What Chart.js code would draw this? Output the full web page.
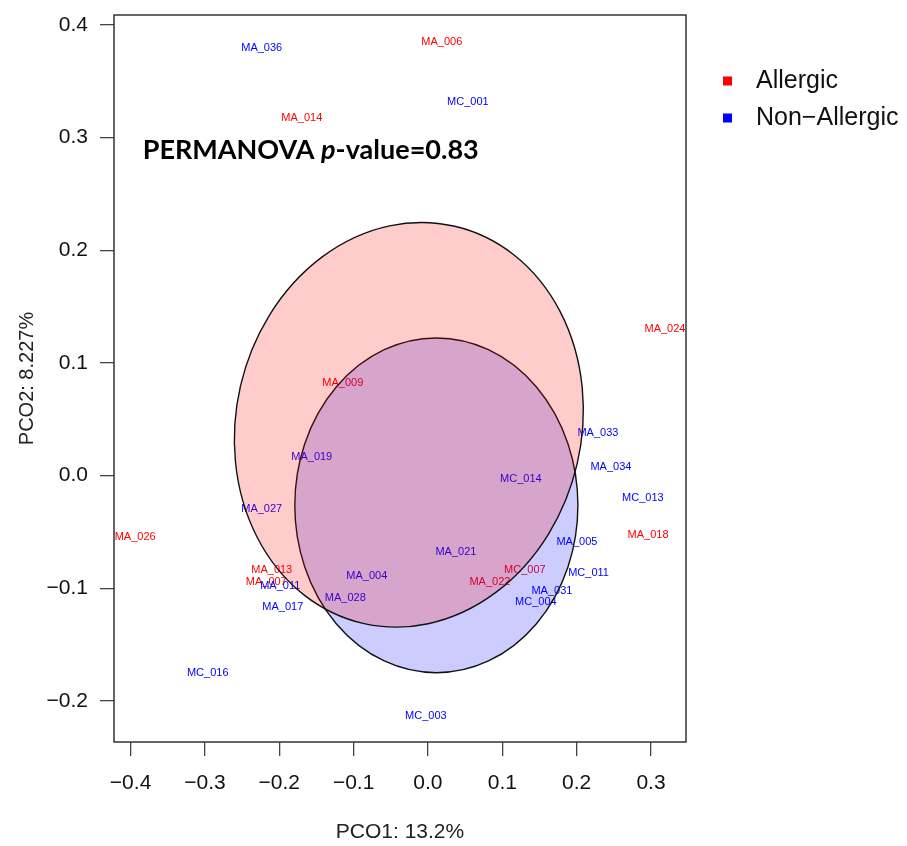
<!DOCTYPE html>
<html>
<head>
<meta charset="utf-8">
<title>PCoA - Allergic vs Non-Allergic</title>
<script src="https://cdn.jsdelivr.net/npm/chart.js@4.4.1/dist/chart.umd.min.js"></script>
<style>
  html, body { margin: 0; padding: 0; background: #fff; }
</style>
</head>
<body>
<canvas id="pcoa" width="907" height="846"></canvas>
<script>
// Allergic samples (PCO1, PCO2)
const allergicIds = ['MA_006', 'MA_014', 'MA_024', 'MA_009', 'MA_026', 'MA_018', 'MA_013', 'MA_007', 'MC_007', 'MA_022'];
const allergicX = [0.0187, -0.1697, 0.3188, -0.1145, -0.3938, 0.2960, -0.2101, -0.2175, 0.1304, 0.0833];
const allergicY = [0.3849, 0.3174, 0.1303, 0.0823, -0.0543, -0.0526, -0.0836, -0.0942, -0.0836, -0.0942];

// Non-allergic samples
const nonAllergicIds = ['MA_036', 'MC_001', 'MA_019', 'MA_033', 'MA_034', 'MC_014', 'MC_013', 'MA_027', 'MA_005', 'MA_021',
    'MC_011', 'MA_004', 'MA_011', 'MA_031', 'MC_004', 'MA_028', 'MA_017', 'MC_016', 'MC_003'];
const nonAllergicX = [-0.2236, 0.0537, -0.1563, 0.2286, 0.2461, 0.1250, 0.2891, -0.2236, 0.2004, 0.0376,
    0.2160, -0.0822, -0.1987, 0.1667, 0.1452, -0.1112, -0.1953, -0.2962, -0.0028];
const nonAllergicY = [0.3795, 0.3316, 0.0167, 0.0380, 0.0078, -0.0028, -0.0197, -0.0295, -0.0588, -0.0676,
    -0.0863, -0.0890, -0.0979, -0.1022, -0.1120, -0.1084, -0.1164, -0.1750, -0.2131];

const groupNames = ['Allergic', 'Non\u2212Allergic'];
const groupColors = ['#ff0000', '#0000ff'];

// group ellipses: centre, semi-axes (data units), tilt in degrees
const ellipseCx = [-0.0257, 0.0113];
const ellipseCy = [0.0451, -0.0264];
const ellipseRx = [0.2324, 0.1904];
const ellipseRy = [0.1809, 0.1486];
const ellipseTilt = [13, 0];

const xTicks = [-0.4, -0.3, -0.2, -0.1, 0.0, 0.1, 0.2, 0.3];
const yTicks = [-0.2, -0.1, 0.0, 0.1, 0.2, 0.3, 0.4];

const statPos = [-0.3837, 0.289];
const pValue = '0.83';

const FONT = '"Liberation Sans", Arial, Helvetica, sans-serif';

function fmtTick(v) {
    const s = Math.abs(v).toFixed(1);
    return v < -1e-9 ? '\u2212' + s : s;
}

function toPoints(xs, ys) {
    return xs.map((x, i) => ({ x: x, y: ys[i] }));
}

const pcoaPlugin = {
    id: 'pcoaDecor',
    afterDatasetsDraw(chart) {
        const { ctx, chartArea, scales: { x, y } } = chart;
        ctx.save();

        // sample labels
        ctx.font = '11px ' + FONT;
        ctx.textAlign = 'center';
        ctx.textBaseline = 'middle';
        chart.data.datasets.forEach((ds, i) => {
            const meta = chart.getDatasetMeta(i);
            ctx.fillStyle = ds.labelColor;
            meta.data.forEach((pt, j) => ctx.fillText(ds.ids[j], pt.x, pt.y));
        });

        // ellipses on top of the labels (non-allergic first, allergic over it)
        const fills = ['rgba(255,0,0,0.2)', 'rgba(0,0,255,0.2)'];
        [1, 0].forEach(k => {
            const cx = ellipseCx[k];
            const px = x.getPixelForValue(cx);
            const py = y.getPixelForValue(ellipseCy[k]);
            const rx = x.getPixelForValue(cx + ellipseRx[k]) - px;
            const ry = py - y.getPixelForValue(ellipseCy[k] + ellipseRy[k]);
            ctx.beginPath();
            ctx.ellipse(px, py, rx, ry, ellipseTilt[k] * Math.PI / 180, 0, 2 * Math.PI);
            ctx.fillStyle = fills[k];
            ctx.fill();
            ctx.lineWidth = 1.4;
            ctx.strokeStyle = '#111';
            ctx.stroke();
        });

        // frame
        ctx.strokeStyle = '#333';
        ctx.lineWidth = 1.5;
        ctx.strokeRect(chartArea.left, chartArea.top, chartArea.right - chartArea.left, chartArea.bottom - chartArea.top);

        // PERMANOVA annotation
        let tx = x.getPixelForValue(statPos[0]);
        const ty = y.getPixelForValue(statPos[1]);
        ctx.fillStyle = '#000';
        ctx.textAlign = 'left';
        const parts = [
            ['bold 27px Lato, "Open Sans", sans-serif', 'PERMANOVA '],
            ['italic bold 27px Lato, "Open Sans", sans-serif', 'p'],
            ['bold 27px Lato, "Open Sans", sans-serif', '-value=' + pValue]
        ];
        parts.forEach(([f, t]) => {
            ctx.font = f;
            ctx.fillText(t, tx, ty);
            tx += ctx.measureText(t).width;
        });

        // legend
        ctx.font = '25px ' + FONT;
        groupNames.forEach((name, k) => {
            const ly = chartArea.top + 66 + k * 37;
            ctx.fillStyle = groupColors[k];
            ctx.fillRect(chartArea.right + 37, ly - 4.5, 9, 9);
            ctx.fillStyle = '#111';
            ctx.fillText(name, chartArea.right + 70, ly);
        });

        ctx.restore();
    }
};

new Chart(document.getElementById('pcoa').getContext('2d'), {
    type: 'scatter',
    data: {
        datasets: [
            {
                label: groupNames[0],
                ids: allergicIds,
                labelColor: groupColors[0],
                data: toPoints(allergicX, allergicY),
                pointRadius: 0,
                pointHoverRadius: 0
            },
            {
                label: groupNames[1],
                ids: nonAllergicIds,
                labelColor: groupColors[1],
                data: toPoints(nonAllergicX, nonAllergicY),
                pointRadius: 0,
                pointHoverRadius: 0
            }
        ]
    },
    options: {
        responsive: false,
        animation: false,
        layout: { padding: { top: 15, right: 221, left: 0, bottom: 0 } },
        plugins: {
            legend: { display: false },
            tooltip: { enabled: false }
        },
        scales: {
            x: {
                type: 'linear',
                min: -0.4223,
                max: 0.3471,
                afterBuildTicks: scale => { scale.ticks = xTicks.map(v => ({ value: v })); },
                afterFit: scale => {
                    scale.height = 104;
                    scale.paddingLeft = 0;
                    scale.paddingRight = 0;
                },
                border: { display: false },
                grid: { drawOnChartArea: false, drawTicks: true, tickLength: 14, color: '#444', lineWidth: 1.3 },
                ticks: {
                    padding: 15,
                    color: '#111',
                    font: { family: FONT, size: 21 },
                    maxRotation: 0,
                    autoSkip: false,
                    callback: v => fmtTick(v)
                },
                title: {
                    display: true,
                    text: 'PCO1: 13.2%',
                    color: '#222',
                    font: { family: FONT, size: 21 },
                    padding: { top: 0, bottom: 1 }
                }
            },
            y: {
                type: 'linear',
                min: -0.2365,
                max: 0.4089,
                afterBuildTicks: scale => { scale.ticks = yTicks.map(v => ({ value: v })); },
                afterFit: scale => {
                    scale.width = 114;
                    scale.paddingTop = 0;
                    scale.paddingBottom = 0;
                },
                border: { display: false },
                grid: { drawOnChartArea: false, drawTicks: true, tickLength: 14, color: '#444', lineWidth: 1.3 },
                ticks: {
                    padding: 12,
                    color: '#111',
                    font: { family: FONT, size: 21 },
                    autoSkip: false,
                    callback: v => fmtTick(v)
                },
                title: {
                    display: true,
                    text: 'PCO2: 8.227%',
                    color: '#222',
                    font: { family: FONT, size: 20 },
                    padding: { top: 15, bottom: 0 }
                }
            }
        }
    },
    plugins: [pcoaPlugin]
});
</script>
</body>
</html>
